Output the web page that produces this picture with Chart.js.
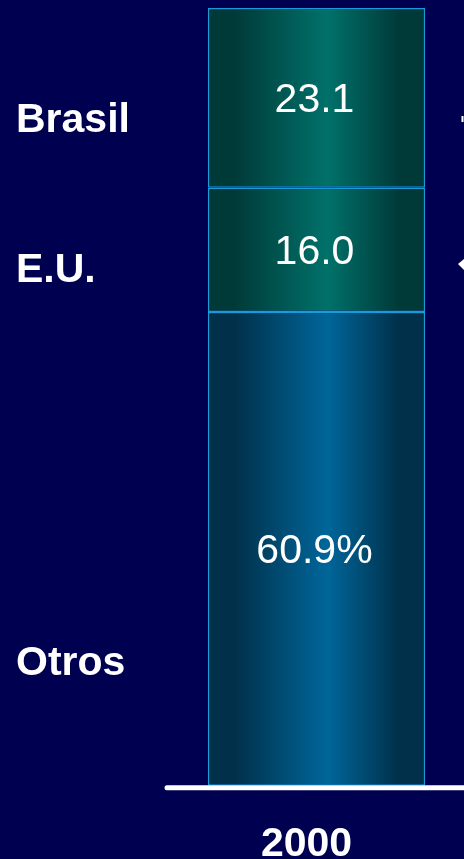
<!DOCTYPE html>
<html>
<head>
<meta charset="utf-8">
<script src="https://cdn.jsdelivr.net/npm/chart.js@4/dist/chart.umd.min.js"></script>
<style>
  html, body { margin: 0; padding: 0; background: #000050; overflow: hidden; }
  #wrap { width: 464px; height: 859px; }
</style>
</head>
<body>
<div id="wrap"><canvas id="shareChart" width="464" height="859"></canvas></div>
<script>
// chart values
const years = ['2000'];
const seriesNames = ['Otros', 'E.U.', 'Brasil'];
const seriesValues = [60.9, 16.0, 23.1];
const valueSuffix = ['%', '', ''];

// gradient colours per segment: [edge, centre]
const segColors = [
  ['#00304a', '#00669a'],
  ['#003a38', '#00716a'],
  ['#003a38', '#00716a']
];

// where the names sit on the left (fraction of chart height)
const namePos = { 'Brasil': 0.142, 'E.U.': 0.335, 'Otros': 0.84 };

// fill each bar with a horizontal gradient once its size is known
const gradientFill = {
  id: 'gradientFill',
  beforeDatasetsDraw(chart) {
    const ctx = chart.ctx;
    chart.data.datasets.forEach((ds, i) => {
      chart.getDatasetMeta(i).data.forEach(bar => {
        const left = bar.x - bar.width / 2;
        const g = ctx.createLinearGradient(left, 0, left + bar.width, 0);
        const c = segColors[i];
        g.addColorStop(0, c[0]);
        g.addColorStop(0.12, c[0]);
        g.addColorStop(0.55, c[1]);
        g.addColorStop(0.88, c[0]);
        g.addColorStop(1, c[0]);
        bar.options.backgroundColor = g;
      });
    });
  }
};

// values inside the bar, names on the left, base line
const barText = {
  id: 'barText',
  afterDatasetsDraw(chart) {
    const ctx = chart.ctx;
    const area = chart.chartArea;
    ctx.save();
    ctx.fillStyle = '#ffffff';
    ctx.textAlign = 'center';
    ctx.textBaseline = 'middle';
    ctx.font = '41px Arial, "Liberation Sans", sans-serif';
    chart.data.datasets.forEach((ds, i) => {
      chart.getDatasetMeta(i).data.forEach((bar, j) => {
        const p = bar.getCenterPoint();
        ctx.fillText(ds.data[j].toFixed(1) + valueSuffix[i], p.x - 2, p.y + 3);
      });
    });

    ctx.textAlign = 'left';
    ctx.font = 'bold 41px Arial, "Liberation Sans", sans-serif';
    chart.data.datasets.forEach(ds => {
      const y = area.top + (area.bottom - area.top) * namePos[ds.label];
      ctx.fillText(ds.label, 16, y + 2);
    });

    // base line
    ctx.strokeStyle = '#ffffff';
    ctx.lineWidth = 5;
    ctx.lineCap = 'round';
    ctx.beginPath();
    ctx.moveTo(area.left - 2, area.bottom + 2);
    ctx.lineTo(chart.width + 4, area.bottom + 2);
    ctx.stroke();

    // cut-off arrow pieces at the right edge
    ctx.lineWidth = 2;
    ctx.lineCap = 'butt';
    ctx.beginPath();
    ctx.moveTo(chart.width - 1.5, area.top + 108);
    ctx.lineTo(chart.width - 1.5, area.top + 114);
    ctx.stroke();
    ctx.beginPath();
    ctx.moveTo(chart.width, area.top + 251);
    ctx.lineTo(chart.width - 6, area.top + 256);
    ctx.lineTo(chart.width, area.top + 262);
    ctx.closePath();
    ctx.fill();
    ctx.restore();
  }
};

new Chart(document.getElementById('shareChart'), {
  type: 'bar',
  data: {
    labels: years,
    datasets: seriesNames.map((name, i) => ({
      label: name,
      data: [seriesValues[i]],
      backgroundColor: segColors[i][1],
      borderColor: '#1a9ad6',
      borderWidth: 1.5,
      borderSkipped: false,
      categoryPercentage: 1,
      barPercentage: 0.736
    }))
  },
  options: {
    responsive: false,
    animation: false,
    layout: { padding: { left: 169, right: 0, top: 8, bottom: -36 } },
    plugins: {
      legend: { display: false },
      tooltip: { enabled: false }
    },
    scales: {
      x: {
        stacked: true,
        grid: { display: false },
        border: { display: false },
        ticks: {
          color: '#ffffff',
          padding: 26,
          labelOffset: -10,
          font: { family: 'Arial, "Liberation Sans", sans-serif', size: 41, weight: 'bold' }
        }
      },
      y: {
        stacked: true,
        display: false,
        min: 0,
        max: 100
      }
    }
  },
  plugins: [gradientFill, barText]
});
</script>
</body>
</html>
